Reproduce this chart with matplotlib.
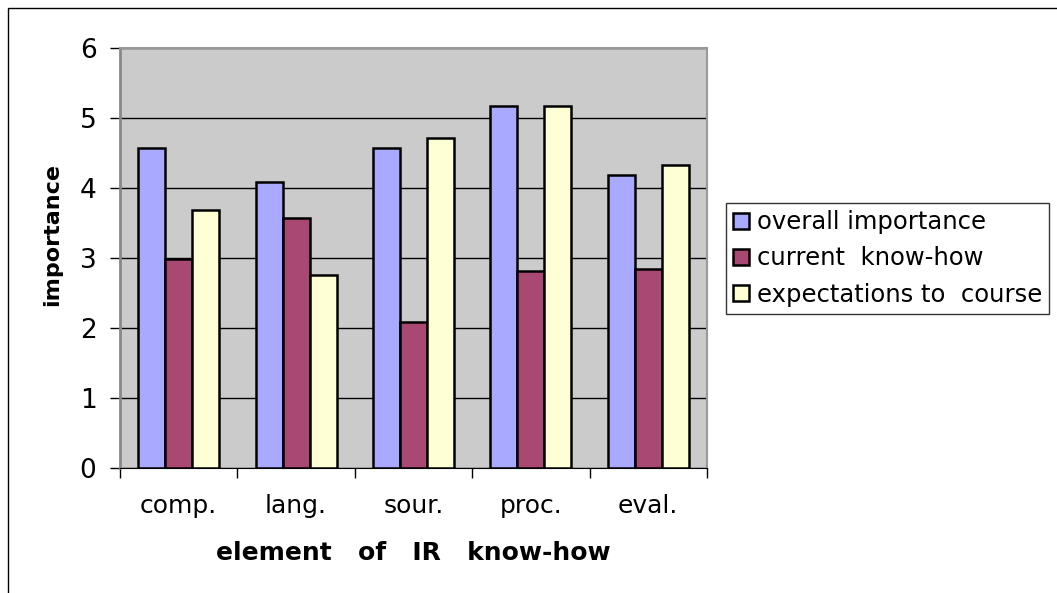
import numpy as np
import matplotlib.pyplot as plt
from matplotlib.patches import Rectangle

categories = ['comp.', 'lang.', 'sour.', 'proc.', 'eval.']
overall = [4.57, 4.09, 4.57, 5.17, 4.18]
current = [2.98, 3.57, 2.09, 2.81, 2.84]
expectations = [3.68, 2.76, 4.71, 5.17, 4.33]
series_names = ['overall importance', 'current  know-how', 'expectations to  course']
colors = ['#A9A9FF', '#A94872', '#FFFFD5']


def main():
    fig = plt.figure(figsize=(10.57, 5.93), dpi=100)
    ax = fig.add_axes([120 / 1057, 1 - 468 / 593, 587 / 1057, 420 / 593])
    ax.set_facecolor('#CBCBCB')

    x = np.arange(len(categories))
    w = 0.23
    for i, (vals, name, c) in enumerate(zip([overall, current, expectations], series_names, colors)):
        ax.bar(x + (i - 1) * w, vals, w, color=c, edgecolor='black', linewidth=1.8,
               label=name, zorder=3)

    ax.set_ylim(0, 6)
    ax.set_xlim(-0.5, len(categories) - 0.5)
    ax.set_yticks(range(7))
    ax.yaxis.grid(True, color='black', linewidth=1.0, zorder=1)
    ax.set_axisbelow(True)

    ax.set_xticks(np.arange(len(categories) + 1) - 0.5)
    ax.set_xticklabels([])
    ax.set_xticks(x, minor=True)
    ax.set_xticklabels(categories, minor=True, fontsize=18)
    ax.tick_params(axis='x', which='minor', length=0, pad=19)
    ax.tick_params(axis='x', which='major', length=7, width=1, direction='out')
    ax.tick_params(axis='y', length=7, width=1, direction='out', labelsize=19, pad=10)

    for s in ['top', 'right']:
        ax.spines[s].set_color('#999999')
        ax.spines[s].set_linewidth(1.5)
    ax.spines['left'].set_color('#888888')
    ax.spines['left'].set_linewidth(2)
    ax.spines['bottom'].set_color('black')

    ax.set_xlabel('element   of   IR   know-how', fontsize=18, fontweight='bold')
    ax.xaxis.set_label_coords(0.5, -0.175)
    ax.set_ylabel('importance', fontsize=16, fontweight='heavy')
    ax.yaxis.set_label_coords(-0.099, 0.555)

    leg = fig.legend(loc='upper left', bbox_to_anchor=(726 / 1057, 1 - 203 / 593),
                     fontsize=17.5, frameon=True, fancybox=False, edgecolor='black',
                     handlelength=0.64, handleheight=0.64, handletextpad=0.32,
                     borderpad=0.3, labelspacing=0.5, borderaxespad=0)
    leg.get_frame().set_linewidth(1)

    fig.patches.append(Rectangle((8 / 1057, -0.1), 1.1, 1.1 - 8 / 593,
                                 transform=fig.transFigure, fill=False,
                                 edgecolor='black', linewidth=1))

    fig.savefig('out.png', dpi=100)


if __name__ == '__main__':
    main()
